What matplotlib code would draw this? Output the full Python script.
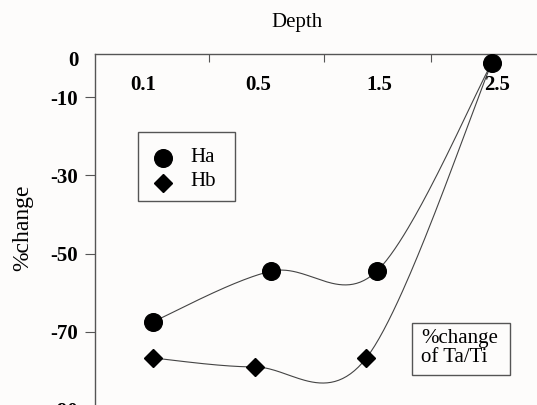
import numpy as np
import matplotlib
matplotlib.use("Agg")
import matplotlib.pyplot as plt
from matplotlib.lines import Line2D
from matplotlib.patches import Rectangle

# depth categories (labels along the top)
depths = ["0.1", "0.5", "1.5", "2.5"]
depth_pos = [0.42, 1.42, 2.47, 3.50]   # where the labels sit
depth_edges = [0.99, 1.99, 2.92]       # tick marks between categories

# series
ha_x = [0.50, 1.53, 2.45, 3.45]
ha_y = [-67.5, -54.5, -54.5, -1.2]
hb_x = [0.50, 1.39, 2.36, 3.45]
hb_y = [-76.7, -79.0, -76.7, -1.2]

yticks = [0, -10, -30, -50, -70, -90]

serif = ["Liberation Serif", "DejaVu Serif"]
plt.rcParams["font.family"] = serif

# px per unit, used so the smoothing happens in screen space like excel
SX, SY = 115.0, 3.907


def smooth(xs, ys, n=60):
    # bezier smoothing with control points P1 +/- (P2-P0)/6
    px = np.array(xs) * SX
    py = np.array(ys) * SY
    pts = np.column_stack([px, py])
    out = []
    for i in range(len(pts) - 1):
        p0 = pts[i - 1] if i > 0 else pts[i]
        p1 = pts[i]
        p2 = pts[i + 1]
        p3 = pts[i + 2] if i + 2 < len(pts) else pts[i + 1]
        c1 = p1 + (p2 - p0) / 6
        c2 = p2 - (p3 - p1) / 6
        t = np.linspace(0, 1, n)[:, None]
        seg = ((1 - t) ** 3) * p1 + 3 * ((1 - t) ** 2) * t * c1 + 3 * (1 - t) * t ** 2 * c2 + t ** 3 * p2
        out.append(seg)
    out = np.vstack(out)
    return out[:, 0] / SX, out[:, 1] / SY


bg = "#fdfcfb"
fs = 15
W, H = 537, 405
fig = plt.figure(figsize=(5.37, 4.05), dpi=100, facecolor=bg)
ax = fig.add_axes([95 / W, 1 - 54 / H - 0.8884, 3.9 * SX / W, 0.8884])
ax.set_facecolor(bg)
ax.set_xlim(0, 3.9)
ax.set_ylim(-91, 1.1)

line_kw = dict(color="#444444", lw=0.8, zorder=2)
x1, y1 = smooth(ha_x, ha_y)
ax.plot(x1, y1, **line_kw)
x2, y2 = smooth(hb_x, hb_y)
ax.plot(x2, y2, **line_kw)

ax.plot(hb_x, hb_y, "D", color="black", ms=9.3, zorder=3)
ax.plot(ha_x, ha_y, "o", color="black", ms=12.7, zorder=4)

# spines: only left and top
for s in ["bottom", "right"]:
    ax.spines[s].set_visible(False)
for s in ["left", "top"]:
    ax.spines[s].set_color("#555555")
    ax.spines[s].set_linewidth(1.0)

ax.set_yticks(yticks)
ax.set_yticklabels([str(v) for v in yticks], fontweight="bold", fontsize=fs)
ax.tick_params(axis="y", direction="out", length=7, width=0.8, color="#555555", pad=5)
ax.yaxis.get_major_ticks()[0].tick1line.set_visible(False)

ax.xaxis.tick_top()
ax.set_xticks(depth_edges)
ax.set_xticklabels([])
ax.tick_params(axis="x", direction="in", length=6, width=0.8, color="#555555")

for p, lab in zip(depth_pos, depths):
    ax.text(p, -6.9, lab, ha="center", va="center", fontweight="bold", fontsize=fs)

fig.text(297 / W, 1 - 23 / H, "Depth", ha="center", va="center", fontsize=fs)
fig.text(23 / W, 1 - 228 / H, "%change", ha="center", va="center", rotation=90, fontsize=17)

# legend drawn by hand so it sits like the original box
fig.patches.append(Rectangle((138 / W, 1 - 201 / H), 97 / W, 69 / H, transform=fig.transFigure,
                             facecolor=bg, edgecolor="#555555", lw=1.0, zorder=5))
fig.lines.append(Line2D([163 / W], [1 - 158 / H], transform=fig.transFigure, marker="o",
                        ls="none", color="black", ms=12.7, zorder=6))
fig.lines.append(Line2D([163 / W], [1 - 183 / H], transform=fig.transFigure, marker="D",
                        ls="none", color="black", ms=9.3, zorder=6))
fig.text(190 / W, 1 - 157 / H, "Ha", ha="left", va="center", fontsize=fs, zorder=6)
fig.text(190 / W, 1 - 182 / H, "Hb", ha="left", va="center", fontsize=fs, zorder=6)

# note box in the lower right
fig.patches.append(Rectangle((412 / W, 1 - 375 / H), 98 / W, 52 / H, transform=fig.transFigure,
                             facecolor=bg, edgecolor="#555555", lw=1.0, zorder=5))
fig.text(421 / W, 1 - 348 / H, "%change\nof Ta/Ti", ha="left", va="center", fontsize=fs,
         linespacing=1.05, zorder=6)

fig.savefig("out.png", dpi=100, facecolor=bg)
